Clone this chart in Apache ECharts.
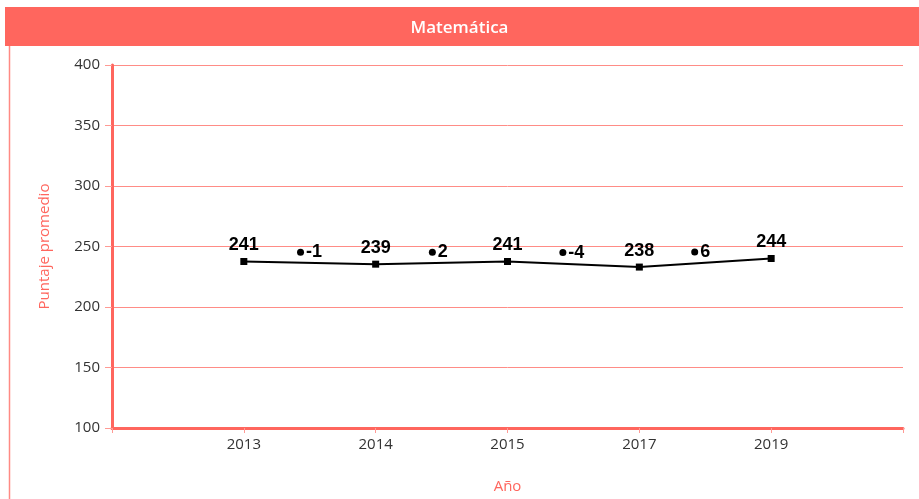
<!DOCTYPE html>
<html>
<head>
<meta charset="utf-8">
<script src="https://cdn.jsdelivr.net/npm/echarts@6/dist/echarts.min.js"></script>
<style>
  html, body { margin: 0; padding: 0; background: #fff; }
  #chart { width: 919px; height: 499px; }
</style>
</head>
<body>
<div id="chart"></div>
<script>
// años y puntajes
const years = ['2013', '2014', '2015', '2017', '2019']
const scoreLabels = [241, 239, 241, 238, 244]
// posición dibujada de cada punto
const scorePlot = [237.6, 235.4, 237.6, 233.0, 240.1]
// diferencias entre mediciones
const diffLabels = ['-1', '2', '-4', '6']
const diffX = [1.43, 2.43, 3.42, 4.42]
const diffY = [245.3, 245.3, 245.0, 245.5]

const red = '#FF665E'

const chart = echarts.init(document.getElementById('chart'))
chart.setOption({
  animation: false,
  graphic: [
    { type: 'rect', shape: { x: 5, y: 7, width: 914, height: 39 }, style: { fill: red } },
    { type: 'line', shape: { x1: 9.5, y1: 46, x2: 9.5, y2: 499 }, style: { stroke: '#FF8A84', lineWidth: 1.5 } },
    {
      type: 'text', left: 'center', top: 20,
      style: { text: 'Matemática', fill: '#fff', font: '600 17px "Open Sans", sans-serif' }
    }
  ],
  grid: { left: 112, right: 16, top: 65, bottom: 62 },
  xAxis: {
    type: 'value',
    min: 0, max: 6, interval: 1,
    name: 'Año',
    nameLocation: 'middle',
    nameGap: 51,
    nameTextStyle: { color: red, fontSize: 15, fontFamily: 'Open Sans' },
    axisLine: { lineStyle: { color: red, width: 3 } },
    axisTick: { length: 5, lineStyle: { color: '#FF9A94' } },
    axisLabel: {
      color: '#333', fontSize: 15, fontFamily: 'Open Sans', margin: 9,
      formatter: v => years[v - 1] || ''
    },
    splitLine: { show: false }
  },
  yAxis: {
    type: 'value',
    min: 100, max: 400, interval: 50,
    name: 'Puntaje promedio',
    nameLocation: 'middle',
    nameGap: 60,
    nameTextStyle: { color: red, fontSize: 15, fontFamily: 'Open Sans' },
    axisLine: { show: true, lineStyle: { color: red, width: 3 } },
    axisTick: { show: true, length: 7, lineStyle: { color: '#FF9A94' } },
    axisLabel: { color: '#333', fontSize: 15, fontFamily: 'Open Sans', margin: 12 },
    splitLine: { lineStyle: { color: '#FF8C86', width: 1 } }
  },
  series: [
    {
      type: 'line',
      data: scorePlot.map((v, i) => [i + 1, v]),
      symbol: 'rect',
      symbolSize: 7,
      lineStyle: { color: '#000', width: 2 },
      itemStyle: { color: '#000' },
      label: {
        show: true, position: 'top', distance: 4,
        color: '#000', fontSize: 18, fontWeight: 'bold', fontFamily: 'Liberation Sans',
        formatter: p => scoreLabels[p.dataIndex]
      }
    },
    {
      type: 'scatter',
      data: diffY.map((v, i) => [diffX[i], v]),
      symbol: 'circle',
      symbolSize: 7,
      itemStyle: { color: '#000', opacity: 1 },
      label: {
        show: true, position: 'right', distance: 2, opacity: 1,
        color: '#000', fontSize: 18, fontWeight: 'bold', fontFamily: 'Liberation Sans',
        formatter: p => diffLabels[p.dataIndex]
      }
    }
  ]
})
</script>
</body>
</html>
